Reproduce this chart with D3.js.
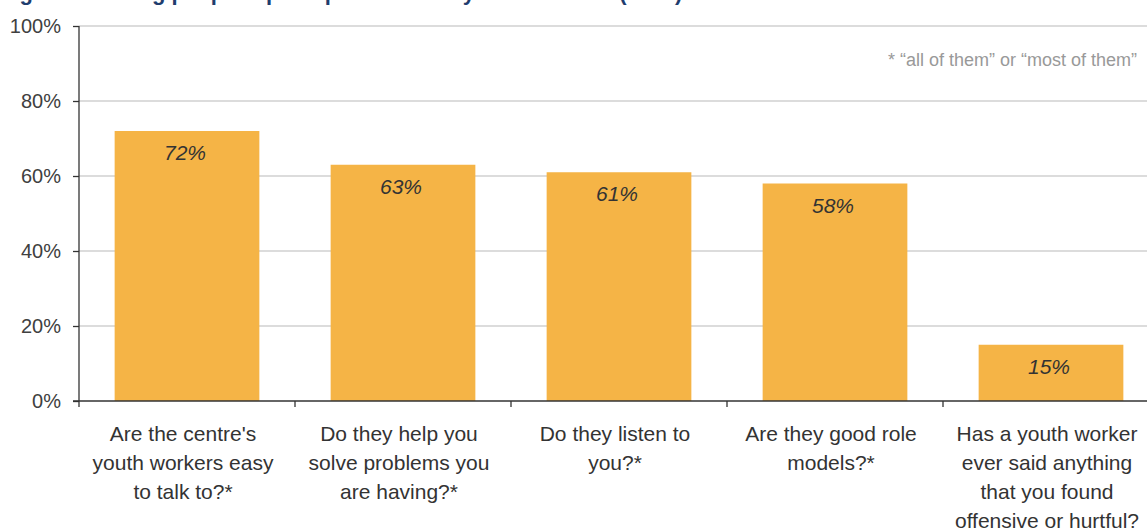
<!DOCTYPE html>
<html>
<head>
<meta charset="utf-8">
<script src="https://cdn.jsdelivr.net/npm/d3@7/dist/d3.min.js"></script>
<style>
  html, body { margin: 0; padding: 0; background: #fff; }
  svg { display: block; font-family: "Liberation Sans", Arial, sans-serif; }
</style>
</head>
<body>
<svg id="chart" width="1147" height="531"></svg>
<script>
// Survey questions (each category label is split into its display lines)
const categories = [
  ["Are the centre's", "youth workers easy", "to talk to?*"],
  ["Do they help you", "solve problems you", "are having?*"],
  ["Do they listen to", "you?*"],
  ["Are they good role", "models?*"],
  ["Has a youth worker", "ever said anything", "that you found", "offensive or hurtful?"]
];
// Share of young people answering yes / "all or most of them"
const values = [0.72, 0.63, 0.61, 0.58, 0.15];
const yTicks = [0, 0.2, 0.4, 0.6, 0.8, 1.0];
const footnote = "* \u201call of them\u201d or \u201cmost of them\u201d";
const title = "Figure 6: Young people\u2019s perceptions of the youth workers (n=\u2026)";

const svg = d3.select("#chart");
const plotLeft = 79, plotRight = 1159, plotTop = 26, plotBottom = 401;

const x = d3.scaleBand()
  .domain(d3.range(values.length))
  .range([plotLeft, plotRight])
  .paddingInner(0.33)
  .paddingOuter(0.165);

const y = d3.scaleLinear().domain([0, 1]).range([plotBottom, plotTop]);

// Title (runs off the top edge of the frame)
svg.append("text")
  .attr("x", 0).attr("y", 0)
  .attr("fill", "#1f3d6e")
  .attr("font-weight", "bold")
  .attr("font-size", 22)
  .text(title);

// Horizontal gridlines
svg.append("g")
  .selectAll("line")
  .data(yTicks.filter(d => d > 0))
  .join("line")
  .attr("x1", plotLeft).attr("x2", plotRight)
  .attr("y1", d => y(d)).attr("y2", d => y(d))
  .attr("stroke", "#d0d0d0").attr("stroke-width", 1.3);

// Bars
svg.append("g")
  .selectAll("rect")
  .data(values)
  .join("rect")
  .attr("x", (d, i) => x(i))
  .attr("width", x.bandwidth())
  .attr("y", d => y(d))
  .attr("height", d => y(0) - y(d))
  .attr("fill", "#F5B446");

// Value labels inside bars
svg.append("g")
  .selectAll("text")
  .data(values)
  .join("text")
  .attr("x", (d, i) => x(i) + x.bandwidth() / 2 - 2)
  .attr("y", d => y(d) + 29)
  .attr("text-anchor", "middle")
  .attr("font-size", 21)
  .attr("font-style", "italic")
  .attr("fill", "#333")
  .text(d => d3.format(".0%")(d));

// Y axis
const yAxis = d3.axisLeft(y)
  .tickValues(yTicks)
  .tickFormat(d3.format(".0%"))
  .tickSize(6)
  .tickPadding(12);
const gy = svg.append("g")
  .attr("transform", `translate(${plotLeft},0)`)
  .call(yAxis);
gy.select(".domain").remove();
gy.selectAll(".tick line").attr("stroke", "#333").attr("stroke-width", 1.3);
gy.selectAll(".tick text")
  .attr("font-size", 20)
  .attr("font-family", "Liberation Sans, Arial, sans-serif")
  .attr("fill", "#404040");
gy.append("line")
  .attr("x1", 0).attr("x2", 0)
  .attr("y1", plotTop).attr("y2", plotBottom + 6)
  .attr("stroke", "#333").attr("stroke-width", 1.3);

// X axis: baseline with ticks between categories
const gx = svg.append("g");
gx.append("line")
  .attr("x1", plotLeft - 6).attr("x2", plotRight)
  .attr("y1", plotBottom).attr("y2", plotBottom)
  .attr("stroke", "#333").attr("stroke-width", 1.3);
const boundaries = d3.range(values.length).map(i => x(i) - x.step() * x.paddingInner() / 2);
gx.selectAll("line.tick")
  .data(boundaries.slice(1))
  .join("line")
  .attr("class", "tick")
  .attr("x1", d => d).attr("x2", d => d)
  .attr("y1", plotBottom).attr("y2", plotBottom + 6)
  .attr("stroke", "#333").attr("stroke-width", 1.3);

// Category labels
const cat = svg.append("g")
  .selectAll("text")
  .data(categories)
  .join("text")
  .attr("text-anchor", "middle")
  .attr("font-size", 21)
  .attr("fill", "#333");
cat.each(function(lines, i) {
  const cx = x(i) + x.bandwidth() / 2 - 4;
  d3.select(this).selectAll("tspan")
    .data(lines)
    .join("tspan")
    .attr("x", cx)
    .attr("y", (d, j) => 441 + j * 29)
    .text(d => d);
});

// Footnote
svg.append("text")
  .attr("x", 1137).attr("y", 66)
  .attr("text-anchor", "end")
  .attr("font-size", 18)
  .attr("fill", "#999")
  .text(footnote);
</script>
</body>
</html>
